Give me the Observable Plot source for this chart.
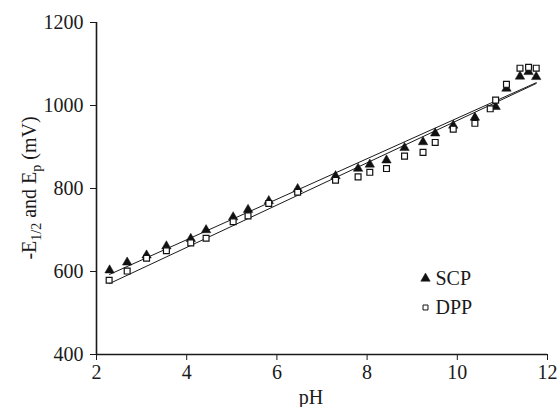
<!DOCTYPE html>
<html>
<head>
<meta charset="utf-8">
<script src="https://cdn.jsdelivr.net/npm/d3@7"></script>
<script src="https://cdn.jsdelivr.net/npm/@observablehq/plot@0.6"></script>
<style>
  html, body { margin: 0; padding: 0; background: #fff; }
  #chart svg { display: block; }
</style>
</head>
<body>
<div id="chart"></div>
<script>
// ---- data ----
const scpPH  = [2.29, 2.68, 3.11, 3.55, 4.09, 4.43, 5.03, 5.36, 5.82, 6.46, 7.30, 7.80, 8.06, 8.43, 8.83, 9.24, 9.51, 9.91, 10.39, 10.85, 11.09, 11.39, 11.58, 11.75];
const scpE   = [603, 622, 639, 661, 679, 700, 731, 749, 770, 799, 830, 848, 858, 868, 898, 912, 933, 952, 971, 997, 1041, 1070, 1081, 1069];
const dppPH  = [2.28, 2.68, 3.11, 3.55, 4.09, 4.43, 5.03, 5.36, 5.82, 6.46, 7.30, 7.80, 8.06, 8.43, 8.83, 9.24, 9.51, 9.91, 10.39, 10.73, 10.85, 11.09, 11.39, 11.58, 11.75];
const dppE   = [579, 601, 632, 650, 669, 680, 720, 734, 764, 791, 820, 828, 839, 848, 878, 887, 911, 943, 957, 992, 1013, 1051, 1090, 1092, 1090];
const fitPH  = [2.29, 11.75];
const scpFit = [593, 1055];
const dppFit = [571, 1053];
const xTicks = [2, 4, 6, 8, 10, 12];
const yTicks = [400, 600, 800, 1000, 1200];
const legendNames = ["SCP", "DPP"];

const scp = scpPH.map((x, i) => ({x, y: scpE[i]}));
const dpp = dppPH.map((x, i) => ({x, y: dppE[i]}));
const scpLine = fitPH.map((x, i) => ({x, y: scpFit[i]}));
const dppLine = fitPH.map((x, i) => ({x, y: dppFit[i]}));

const ink = "#1a1a1a";
const W = 559, H = 407;

const plot = Plot.plot({
  width: W,
  height: H,
  marginLeft: 96,
  marginRight: 12,
  marginTop: 22,
  marginBottom: 53,
  style: {fontFamily: "'Liberation Serif', 'Times New Roman', serif", fontSize: "20px", color: ink, background: "#fff"},
  x: {domain: [xTicks[0], xTicks[xTicks.length - 1]], ticks: xTicks, tickFormat: d => String(d), tickSize: 6, tickPadding: 4, label: null},
  y: {domain: [yTicks[0], yTicks[yTicks.length - 1]], ticks: yTicks, tickFormat: d => String(d), tickSize: 6, tickPadding: 7, label: null},
  marks: [
    Plot.ruleX([xTicks[0]], {stroke: ink, strokeWidth: 1.6}),
    Plot.ruleY([yTicks[0]], {stroke: ink, strokeWidth: 1.6}),
    Plot.line(scpLine, {x: "x", y: "y", stroke: ink, strokeWidth: 1}),
    Plot.line(dppLine, {x: "x", y: "y", stroke: ink, strokeWidth: 1}),
    Plot.dot(scp, {x: "x", y: "y", symbol: "triangle", r: 3.5, fill: "#111", stroke: "#111", strokeWidth: 0.5}),
    Plot.dot(dpp, {x: "x", y: "y", symbol: "square", r: 3.3, fill: "#fff", stroke: "#111", strokeWidth: 1.2}),
    // legend
    Plot.dot([legendNames[0]], {frameAnchor: "top-left", dx: 329, dy: 256, symbol: "triangle", r: 3.5, fill: "#111", stroke: "#111", strokeWidth: 0.5}),
    Plot.dot([legendNames[1]], {frameAnchor: "top-left", dx: 329, dy: 285, symbol: "square", r: 2.8, fill: "#fff", stroke: "#111", strokeWidth: 1}),
    Plot.text([legendNames[0]], {text: d => d, frameAnchor: "top-left", dx: 339, dy: 256, textAnchor: "start", lineAnchor: "middle", fontSize: 20, fill: ink}),
    Plot.text([legendNames[1]], {text: d => d, frameAnchor: "top-left", dx: 339, dy: 285, textAnchor: "start", lineAnchor: "middle", fontSize: 20, fill: ink})
  ]
});

document.getElementById("chart").appendChild(plot);

const svg = d3.select(plot);
// x axis label
svg.append("text")
  .attr("x", 311).attr("y", 404)
  .attr("text-anchor", "middle")
  .attr("fill", ink)
  .style("font-size", "20px")
  .text("pH");

// y axis label with subscripts
const yl = svg.append("text")
  .attr("transform", "translate(36,188) rotate(-90)")
  .attr("text-anchor", "middle")
  .attr("fill", ink)
  .style("font-size", "20px");
yl.append("tspan").text("-E");
yl.append("tspan").attr("dy", 5).style("font-size", "14px").text("1/2");
yl.append("tspan").attr("dy", -5).text(" and E");
yl.append("tspan").attr("dy", 5).style("font-size", "14px").text("p");
yl.append("tspan").attr("dy", -5).text(" (mV)");
</script>
</body>
</html>
